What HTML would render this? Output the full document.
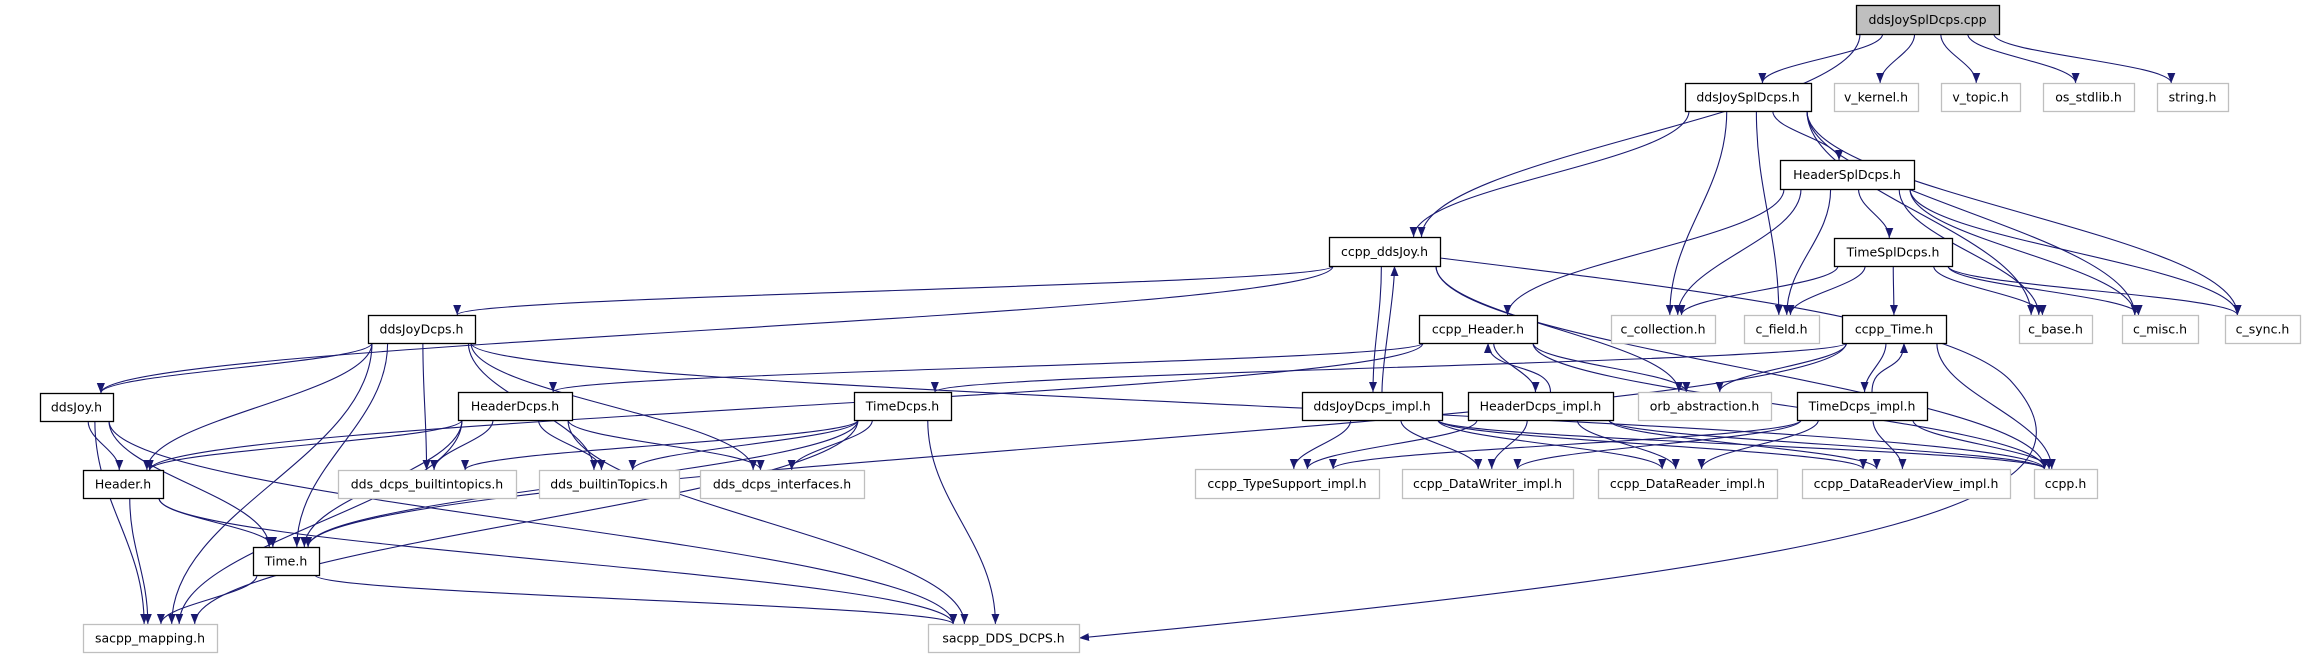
<!DOCTYPE html>
<html><head><meta charset="utf-8"><style>
html,body{margin:0;padding:0;background:#fff;}
svg{display:block;}
text{font-family:"DejaVu Sans","Liberation Sans",sans-serif;font-size:12.5px;fill:#000;}
</style></head><body>
<svg id="g" width="2302" height="659" viewBox="0 0 2302 659" xmlns="http://www.w3.org/2000/svg">
<defs><marker id="a" viewBox="0 0 10 10" refX="10" refY="5" markerWidth="10" markerHeight="10" markerUnits="userSpaceOnUse" orient="auto"><path d="M0,1 L10,5 L0,9 z" fill="#191970"/></marker></defs>
<g id="e" fill="none" stroke="#191970" stroke-width="1.1"></g>
<g id="n"></g>
</svg>
<script>
var N={
cpp:[1856,5,1999,34,'ddsJoySplDcps.cpp',2],
sh:[1685,83,1811,111,'ddsJoySplDcps.h',1],
vk:[1834,83,1918,111,'v_kernel.h',0],
vt:[1941,83,2020,111,'v_topic.h',0],
os:[2043,83,2134,111,'os_stdlib.h',0],
st:[2157,83,2228,111,'string.h',0],
hs:[1780,160,1914,189,'HeaderSplDcps.h',1],
cj:[1329,237,1440,266,'ccpp_ddsJoy.h',1],
ts:[1834,238,1952,266,'TimeSplDcps.h',1],
ch:[1419,315,1537,343,'ccpp_Header.h',1],
cc:[1611,315,1715,343,'c_collection.h',0],
cf:[1744,315,1819,343,'c_field.h',0],
ct:[1842,315,1946,343,'ccpp_Time.h',1],
cb:[2019,315,2092,343,'c_base.h',0],
cm:[2122,315,2198,343,'c_misc.h',0],
cs:[2225,315,2300,343,'c_sync.h',0],
dd:[368,315,475,343,'ddsJoyDcps.h',1],
dj:[40,393,113,421,'ddsJoy.h',1],
hd:[458,392,572,420,'HeaderDcps.h',1],
td:[854,392,951,420,'TimeDcps.h',1],
di:[1302,392,1442,420,'ddsJoyDcps_impl.h',1],
hi:[1468,392,1613,420,'HeaderDcps_impl.h',1],
ob:[1638,392,1771,420,'orb_abstraction.h',0],
ti:[1797,392,1927,420,'TimeDcps_impl.h',1],
hh:[83,470,163,498,'Header.h',1],
bt:[338,470,516,498,'dds_dcps_builtintopics.h',0],
bT:[539,470,679,498,'dds_builtinTopics.h',0],
ifc:[700,470,864,498,'dds_dcps_interfaces.h',0],
tsi:[1195,469,1379,498,'ccpp_TypeSupport_impl.h',0],
dw:[1402,469,1573,498,'ccpp_DataWriter_impl.h',0],
dr:[1598,469,1777,498,'ccpp_DataReader_impl.h',0],
drv:[1802,469,2010,498,'ccpp_DataReaderView_impl.h',0],
cp:[2034,469,2097,498,'ccpp.h',0],
th:[253,547,319,575,'Time.h',1],
sm:[83,624,217,652,'sacpp_mapping.h',0],
sd:[928,624,1079,652,'sacpp_DDS_DCPS.h',0]
};
var E=[
['cpp','sh'],['cpp','vk'],['cpp','vt'],['cpp','os'],['cpp','st'],['cpp','cj'],
['sh','cj'],['sh','hs'],['sh','cc'],['sh','cf'],['sh','cb'],['sh','cm'],['sh','cs'],
['hs','ch'],['hs','cc'],['hs','cf'],['hs','ts'],['hs','cb'],['hs','cm'],['hs','cs'],
['ts','cc'],['ts','cf'],['ts','ct'],['ts','cb'],['ts','cm'],['ts','cs'],
['cj','dd'],['cj','dj'],['cj','di'],['cj','ob'],['cj','cp'],
['di','cj'],['di','tsi'],['di','dw'],['di','dr'],['di','drv'],['di','cp'],
['ch','hd'],['ch','hh'],['ch','hi'],['ch','ob'],['ch','cp'],
['hi','ch'],['hi','tsi'],['hi','dw'],['hi','dr'],['hi','drv'],['hi','cp'],
['ct','td'],['ct','th'],['ct','ti'],['ct','ob'],['ct','cp'],
['ti','ct'],['ti','tsi'],['ti','dw'],['ti','dr'],['ti','drv'],['ti','cp'],
['dd','dj'],['dd','hh'],['dd','th'],['dd','bt'],['dd','bT'],['dd','ifc'],['dd','sm'],['dd','cp'],
['dj','hh'],['dj','th'],['dj','sm'],['dj','sd'],
['hd','hh'],['hd','th'],['hd','bt'],['hd','bT'],['hd','ifc'],['hd','sm'],['hd','sd'],
['hh','th'],['hh','sm'],['hh','sd'],
['th','sm'],['th','sd'],
['td','th'],['td','bt'],['td','bT'],['td','ifc'],['td','sm'],['td','sd']
];
var NS='http://www.w3.org/2000/svg',eg=document.getElementById('e'),ng=document.getElementById('n');
function cx(k){var n=N[k];return (n[0]+n[2])/2;}
function add(d){var p=document.createElementNS(NS,'path');p.setAttribute('d',d);p.setAttribute('marker-end','url(#a)');eg.appendChild(p);}
E.forEach(function(e,i){
 var s=N[e[0]],t=N[e[1]],d;
 var sx=cx(e[0]),tx=cx(e[1]);
 if(t[1]<s[1]){
  sx+=10;tx+=10;
  d='M'+sx+','+s[1]+' C'+sx+','+(s[1]-30)+' '+tx+','+(t[3]+30)+' '+tx+','+t[3];
 } else if(t[1]==s[1]){
  d='M'+s[2]+','+(s[1]+14)+' L'+t[0]+','+(t[1]+14);
 } else {
  var off=(tx-sx)*0.25; var w=s[2]-s[0];
  var x0=sx+Math.max(-w/2+4,Math.min(w/2-4,off));
  var tw=t[2]-t[0];
  var x1=tx-Math.max(-tw/3,Math.min(tw/3,(tx-sx)*0.08));
  var y0=s[3],y1=t[1],dy=(y1-y0)*0.4;
  d='M'+x0+','+y0+' C'+x0+','+(y0+dy)+' '+x1+','+(y1-dy)+' '+x1+','+y1;
 }
 add(d);
});
// ccpp_ddsJoy -> sacpp_DDS_DCPS via far right
add('M1440,258 C1700,290 1950,320 2010,380 C2120,500 1900,560 1079,638');
for(var k in N){var n=N[k];
 var r=document.createElementNS(NS,'rect');
 r.setAttribute('x',n[0]+0.5);r.setAttribute('y',n[1]+0.5);r.setAttribute('width',n[2]-n[0]);r.setAttribute('height',n[3]-n[1]);
 r.setAttribute('fill',n[5]==2?'#bfbfbf':'#fff');r.setAttribute('stroke',n[5]?'#000':'#bfbfbf');r.setAttribute('stroke-width',1.3);
 ng.appendChild(r);
 var t=document.createElementNS(NS,'text');t.setAttribute('x',(n[0]+n[2])/2);t.setAttribute('y',(n[1]+n[3])/2+4.5);t.setAttribute('text-anchor','middle');t.textContent=n[4];ng.appendChild(t);
}
</script>
</body></html>
